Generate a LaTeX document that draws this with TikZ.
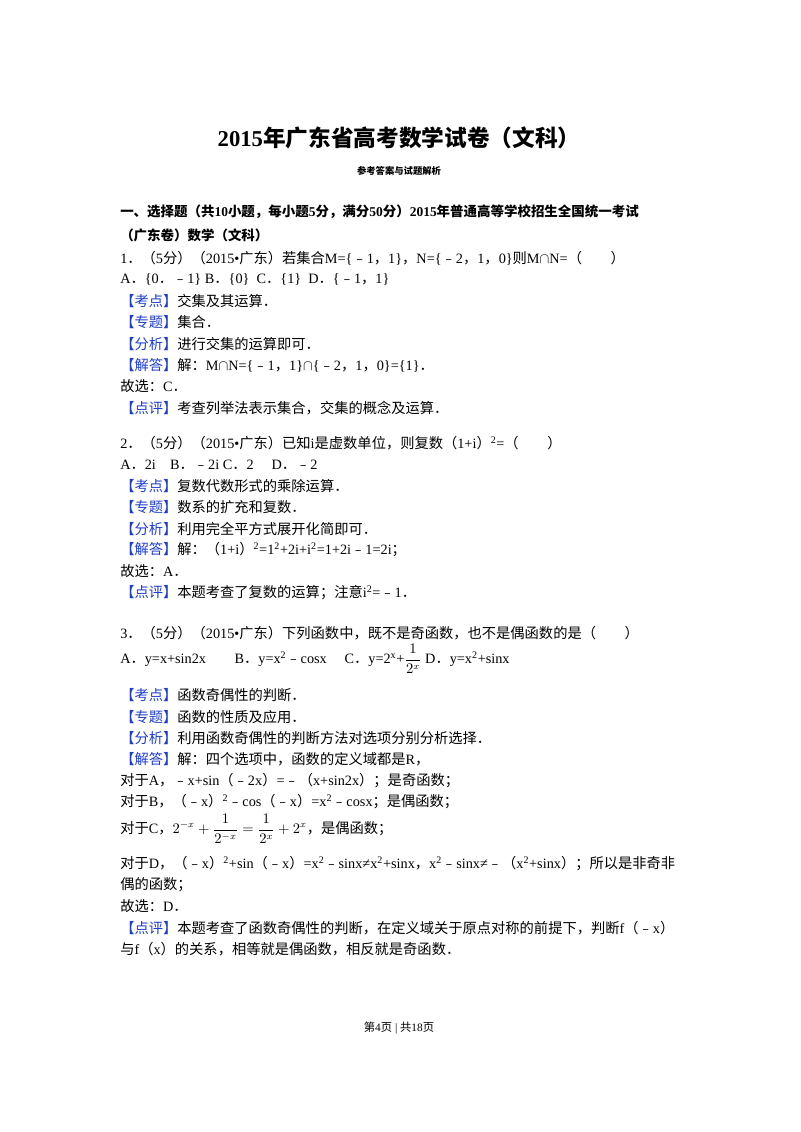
\documentclass[tikz,border=0pt]{standalone}
\usepackage{fontspec}
\setmainfont{Liberation Serif}
\newfontfamily\cjk{Noto Sans CJK SC}
\XeTeXinterchartokenstate=1
\newXeTeXintercharclass\CJKclass
\makeatletter
\def\setcjkrange#1#2{\count@=#1\relax\loop\XeTeXcharclass\count@=\CJKclass\ifnum\count@<#2\advance\count@ by 1\repeat}
\setcjkrange{"4E00}{"9FFF}
\setcjkrange{"3000}{"303F}
\setcjkrange{"FF00}{"FFEF}
\setcjkrange{"FE10}{"FE6F}
\makeatother
\XeTeXinterchartoks 0 \CJKclass = {\begingroup\cjk}
\XeTeXinterchartoks 4095 \CJKclass = {\begingroup\cjk}
\XeTeXinterchartoks \CJKclass 0 = {\endgroup}
\XeTeXinterchartoks \CJKclass 4095 = {\endgroup}
\definecolor{lab}{RGB}{30,60,210}
\newcommand{\lb}[1]{\textcolor{lab}{【#1】}}
\newcommand{\sq}{\textsuperscript{2}}
\begin{document}
\begin{tikzpicture}[x=0.75pt,y=-0.75pt,
  ln/.style={anchor=west,inner sep=0pt,font=\fontsize{10.7}{12}\selectfont}]
\useasboundingbox (0,0) rectangle (800,1132);
\node[font=\fontsize{17}{20}\selectfont\bfseries,inner sep=0pt] (title) at (399,138) {2015年广东省高考数学试卷（文科）};
\node[font=\fontsize{7}{8}\selectfont\bfseries,inner sep=0pt] (sub) at (399,171) {参考答案与试题解析};
\node[ln,font=\fontsize{10.1}{12}\selectfont\bfseries] (h1) at (120,212) {一、选择题（共10小题，每小题5分，满分50分）2015年普通高等学校招生全国统一考试};
\node[ln,font=\fontsize{10.1}{12}\selectfont\bfseries] (h2) at (120,235) {（广东卷）数学（文科）};
\node[ln] (a1) at (120,258) {1．（5分）（2015•广东）若集合M=\{﹣1，1\}，N=\{﹣2，1，0\}则M$\cap$N=（\quad\quad）};
\node[ln] (a2) at (120,279) {A．\{0．﹣1\} B．\{0\}\ \ C．\{1\}\ \ D．\{﹣1，1\}};
\node[ln] (a3) at (120,301) {\lb{考点}交集及其运算．};
\node[ln] (a4) at (120,322) {\lb{专题}集合．};
\node[ln] (a5) at (120,344) {\lb{分析}进行交集的运算即可．};
\node[ln] (a6) at (120,365) {\lb{解答}解：M$\cap$N=\{﹣1，1\}$\cap$\{﹣2，1，0\}=\{1\}．};
\node[ln] (a7) at (120,386) {故选：C．};
\node[ln] (a8) at (120,408) {\lb{点评}考查列举法表示集合，交集的概念及运算．};
\node[ln] (b1) at (120,443) {2．（5分）（2015•广东）已知i是虚数单位，则复数（1+i）\sq=（\quad\quad）};
\node[ln] (b2) at (120,465) {A．2i\quad B．﹣2i C．2\quad\ D．﹣2};
\node[ln] (b3) at (120,486) {\lb{考点}复数代数形式的乘除运算．};
\node[ln] (b4) at (120,507) {\lb{专题}数系的扩充和复数．};
\node[ln] (b5) at (120,529) {\lb{分析}利用完全平方式展开化简即可．};
\node[ln] (b6) at (120,550) {\lb{解答}解：（1+i）\sq=1\sq+2i+i\sq=1+2i﹣1=2i；};
\node[ln] (b7) at (120,571) {故选：A．};
\node[ln] (b8) at (120,593) {\lb{点评}本题考查了复数的运算；注意i\sq=﹣1．};
\node[ln] (c1) at (120,633) {3．（5分）（2015•广东）下列函数中，既不是奇函数，也不是偶函数的是（\quad\quad）};
\node[ln] (c2) at (120,659) {A．y=x+sin2x\qquad B．y=x\sq﹣cosx\quad\ C．y=2\textsuperscript{x}+$\displaystyle\frac{1}{2^{x}}$ D．y=x\sq+sinx};
\node[ln] (c3) at (120,695) {\lb{考点}函数奇偶性的判断．};
\node[ln] (c4) at (120,717) {\lb{专题}函数的性质及应用．};
\node[ln] (c5) at (120,738) {\lb{分析}利用函数奇偶性的判断方法对选项分别分析选择．};
\node[ln] (c6) at (120,759) {\lb{解答}解：四个选项中，函数的定义域都是R，};
\node[ln] (c7) at (120,781) {对于A，﹣x+sin（﹣2x）=﹣（x+sin2x）；是奇函数；};
\node[ln] (c8) at (120,802) {对于B，（﹣x）\sq﹣cos（﹣x）=x\sq﹣cosx；是偶函数；};
\node[ln] (c9) at (120,829) {对于C，$\displaystyle 2^{-x}+\frac{1}{2^{-x}}=\frac{1}{2^{x}}+2^{x}$，是偶函数；};
\node[ln] (c10) at (120,864) {对于D，（﹣x）\sq+sin（﹣x）=x\sq﹣sinx≠x\sq+sinx，x\sq﹣sinx≠﹣（x\sq+sinx）；所以是非奇非};
\node[ln] (c11) at (120,885) {偶的函数；};
\node[ln] (c12) at (120,906) {故选：D．};
\node[ln] (c13) at (120,928) {\lb{点评}本题考查了函数奇偶性的判断，在定义域关于原点对称的前提下，判断f（﹣x）};
\node[ln] (c14) at (120,949) {与f（x）的关系，相等就是偶函数，相反就是奇函数．};
\node[font=\fontsize{8.5}{10}\selectfont,inner sep=0pt] (foot) at (399,1028) {第4页 | 共18页};
\end{tikzpicture}
\end{document}
